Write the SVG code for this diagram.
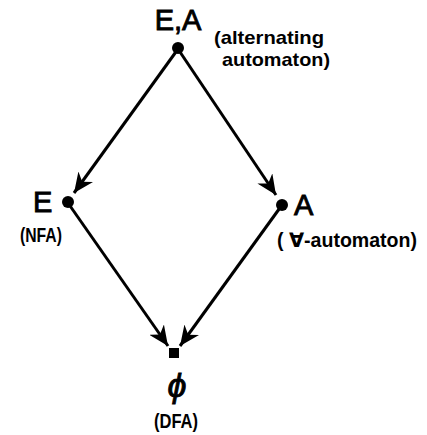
<svg xmlns="http://www.w3.org/2000/svg" width="427" height="435" viewBox="0 0 427 435">
<style>
text{font-family:"Liberation Sans","DejaVu Sans",sans-serif;fill:#000;font-weight:bold}
.big{font-size:29px;font-weight:normal;stroke:#000;stroke-width:0.9}
.sm{font-size:20px}
.edge{stroke:#000;stroke-width:3;fill:none;marker-end:url(#ah)}
</style>
<defs>
<marker id="ah" markerUnits="userSpaceOnUse" markerWidth="22" markerHeight="18" refX="20" refY="9" orient="auto">
<path d="M0,0 L20,9 L0,18 L6,9 Z" fill="#000"/>
</marker>
</defs>
<rect width="427" height="435" fill="#fff"/>
<g id="connectors">
<line class="edge" x1="178" y1="49" x2="74" y2="193"/>
<line class="edge" x1="178" y1="49" x2="276" y2="195"/>
<line class="edge" x1="68" y1="203" x2="168" y2="346"/>
<line class="edge" x1="282" y1="205" x2="180" y2="346"/>
</g>
<g id="n-EA">
<circle cx="178" cy="48" r="6"/>
<text class="big" x="178" y="30" text-anchor="middle">E,A</text>
<text class="sm" x="214" y="44" textLength="110" lengthAdjust="spacingAndGlyphs" style="font-size:19px">(alternating</text>
<text class="sm" x="222" y="66" textLength="108" lengthAdjust="spacingAndGlyphs" style="font-size:19px">automaton)</text>
</g>
<g id="n-E">
<circle cx="68" cy="202" r="6"/>
<text class="big" x="33" y="212">E</text>
<text class="sm" x="20" y="242" textLength="42" lengthAdjust="spacingAndGlyphs">(NFA)</text>
</g>
<g id="n-A">
<circle cx="282" cy="205" r="6"/>
<text class="big" x="294" y="215">A</text>
<text class="sm" x="277" y="247" textLength="140" lengthAdjust="spacingAndGlyphs">( ∀-automaton)</text>
</g>
<g id="n-phi">
<rect x="169" y="348" width="10" height="10"/>
<text class="big" x="177" y="397" text-anchor="middle" style="font-size:34px;font-style:italic">ϕ</text>
<text class="sm" x="176" y="428" text-anchor="middle" textLength="44" lengthAdjust="spacingAndGlyphs">(DFA)</text>
</g>
</svg>
